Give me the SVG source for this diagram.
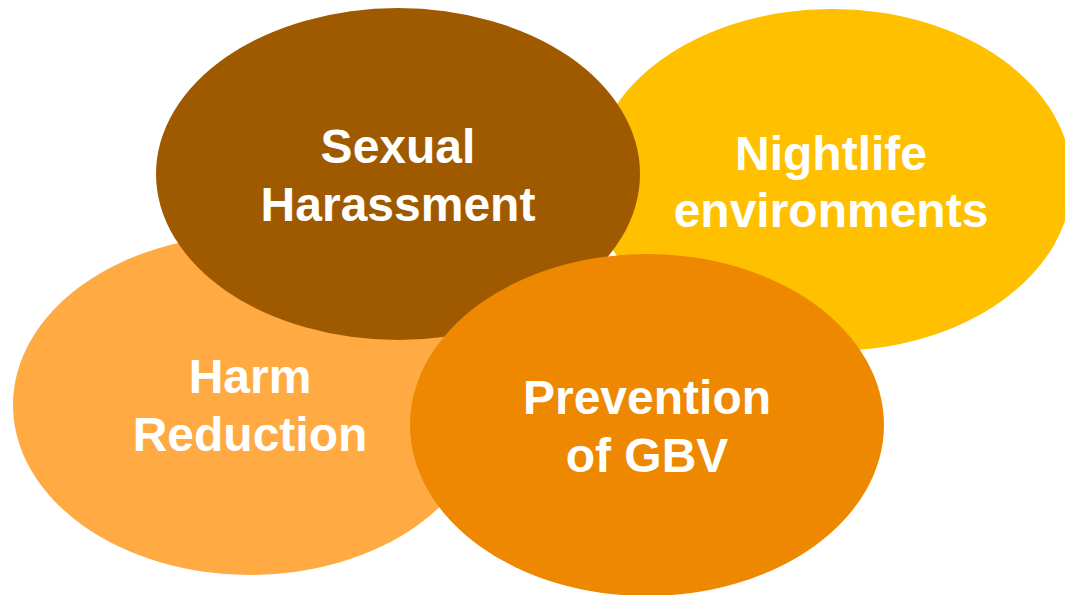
<svg xmlns="http://www.w3.org/2000/svg" width="1065" height="595" viewBox="0 0 1065 595">
<style>
.lbl{font-family:"Liberation Sans",Arial,sans-serif;font-weight:bold;font-size:48px;fill:#FFFFFF;text-anchor:middle}
</style>
<rect width="1065" height="595" fill="#FFFFFF"/>
<g id="node-nightlife">
<ellipse cx="832" cy="180" rx="240" ry="171" fill="#FFC000"/>
<text class="lbl" x="831" y="170">Nightlife</text>
<text class="lbl" x="831" y="227">environments</text>
</g>
<g id="node-harm">
<ellipse cx="250" cy="405" rx="237" ry="170" fill="#FFAA42"/>
<text class="lbl" x="250" y="393">Harm</text>
<text class="lbl" x="250" y="451">Reduction</text>
</g>
<g id="node-sexual">
<ellipse cx="398" cy="174" rx="242" ry="166" fill="#9F5A00"/>
<text class="lbl" x="398" y="163">Sexual</text>
<text class="lbl" x="398" y="221">Harassment</text>
</g>
<g id="node-prevention">
<ellipse cx="647" cy="425" rx="237" ry="171" fill="#EE8800"/>
<text class="lbl" x="647" y="414">Prevention</text>
<text class="lbl" x="647" y="472">of GBV</text>
</g>
<g id="connectors"></g>
</svg>
